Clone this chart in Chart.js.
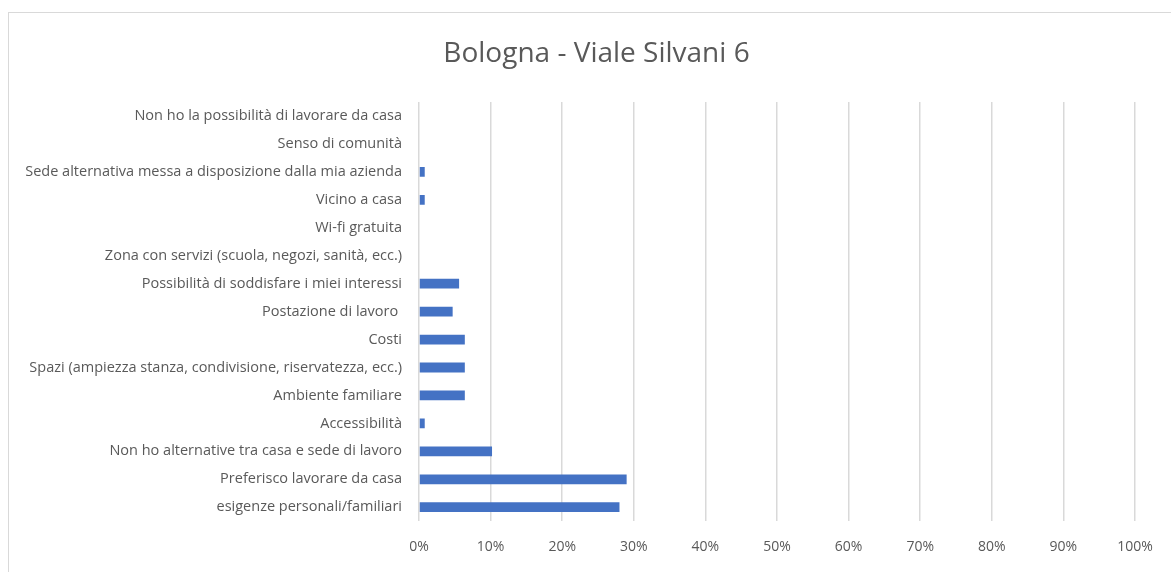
<!DOCTYPE html>
<html>
<head>
<meta charset="utf-8">
<script src="https://cdn.jsdelivr.net/npm/chart.js@4"></script>
<style>
    body { margin: 0; background: #fff; overflow: hidden; }
    #frame {
        position: absolute; left: 8px; top: 12px;
        width: 1200px; height: 600px;
        border: 1px solid #d9d9d9;
    }
    #wrap { position: absolute; left: 0; top: 0; width: 1171px; height: 572px; }
</style>
</head>
<body>
<div id="frame"></div>
<div id="wrap"><canvas id="chart"></canvas></div>
<script>
// Chart data
const categories = [
    'Non ho la possibilità di lavorare da casa',
    'Senso di comunità',
    'Sede alternativa messa a disposizione dalla mia azienda',
    'Vicino a casa',
    'Wi-fi gratuita',
    'Zona con servizi (scuola, negozi, sanità, ecc.)',
    'Possibilità di soddisfare i miei interessi',
    'Postazione di lavoro ',
    'Costi',
    'Spazi (ampiezza stanza, condivisione, riservatezza, ecc.)',
    'Ambiente familiare',
    'Accessibilità',
    'Non ho alternative tra casa e sede di lavoro',
    'Preferisco lavorare da casa',
    'esigenze personali/familiari'
];
const values = [0, 0, 0.8, 0.8, 0, 0, 5.6, 4.7, 6.4, 6.4, 6.4, 0.8, 10.2, 29, 28];
const tickValues = [0, 10, 20, 30, 40, 50, 60, 70, 80, 90, 100];
const chartTitle = 'Bologna - Viale Silvani 6';

const textColor = '#595959';
const fontFamily = '"Open Sans", Lato, sans-serif';

// Title drawn a bit right of canvas centre, like the Excel original
const titlePlugin = {
    id: 'centerTitle',
    afterDraw: (chart) => {
        const { ctx, width } = chart;
        ctx.save();
        ctx.font = '28px ' + fontFamily;
        ctx.fillStyle = textColor;
        ctx.textAlign = 'center';
        ctx.textBaseline = 'alphabetic';
        ctx.fillText(chartTitle, width / 2 + 11, 62);
        ctx.restore();
    }
};

// Create chart
const ctx = document.getElementById('chart').getContext('2d');
window.barChart = new Chart(ctx, {
    type: 'bar',
    plugins: [titlePlugin],
    data: {
        labels: categories,
        datasets: [{
            data: values,
            backgroundColor: '#4472c4',
            borderWidth: 0,
            barPercentage: 0.35,
            categoryPercentage: 1
        }]
    },
    options: {
        indexAxis: 'y',
        responsive: true,
        maintainAspectRatio: false,
        animation: false,
        layout: {
            padding: { left: 10, right: 36, top: 102, bottom: 0 }
        },
        plugins: {
            legend: { display: false },
            tooltip: { enabled: false }
        },
        scales: {
            x: {
                min: 0,
                max: 100,
                afterBuildTicks: (scale) => {
                    scale.ticks = tickValues.map(v => ({ value: v }));
                },
                ticks: {
                    color: textColor,
                    font: { family: fontFamily, size: 14 },
                    padding: 17,
                    callback: (v) => v + '%'
                },
                grid: {
                    color: '#d9d9d9',
                    lineWidth: 1.5,
                    drawTicks: false
                },
                border: { display: false }
            },
            y: {
                afterFit: (scale) => { scale.width = 409; },
                ticks: {
                    color: textColor,
                    font: { family: fontFamily, size: 14.5 },
                    padding: 17,
                    autoSkip: false
                },
                grid: { display: false, drawTicks: false },
                border: { display: false }
            }
        }
    }
});
</script>
</body>
</html>
